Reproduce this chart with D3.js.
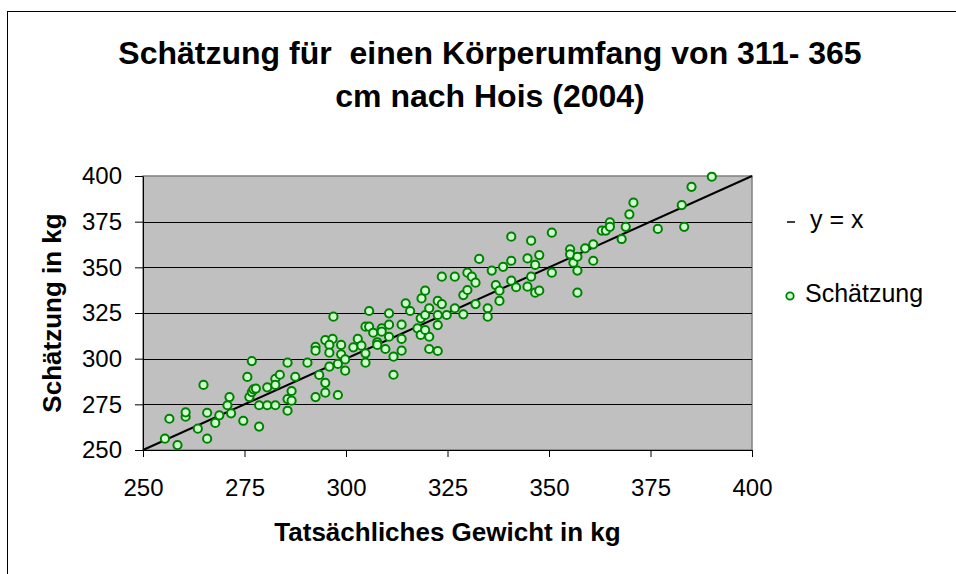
<!DOCTYPE html>
<html>
<head>
<meta charset="utf-8">
<script src="https://cdn.jsdelivr.net/npm/d3@7/dist/d3.min.js"></script>
<style>
  body { margin: 0; background: #fff; }
  text { font-family: "Liberation Sans", Arial, sans-serif; }
</style>
</head>
<body>
<div id="chart"></div>
<script>
// data
var titleLines = ["Schätzung für  einen Körperumfang von 311- 365", "cm nach Hois (2004)"];
var xTitle = "Tatsächliches Gewicht in kg",
    yTitle = "Schätzung in kg";
var legendLabels = ["y = x", "Schätzung"];
var xTicks = [250, 275, 300, 325, 350, 375, 400],
    yTicks = [250, 275, 300, 325, 350, 375, 400];
var lineXY = [250, 400];

var gewicht = [
  255.4, 258.5, 256.5, 260.5, 260.5, 263.5, 264.9, 265.8, 265.8, 267.8,
  268.8, 270.8, 271.3, 271.7, 274.7, 275.7, 276.8, 276.2, 276.8, 277.2,
  277.8, 278.6, 278.6, 280.6, 280.6, 282.6, 282.6, 282.6, 283.7, 285.6,
  285.6, 285.6, 286.6, 286.6, 287.5, 290.5, 292.5, 292.5, 292.5, 293.4,
  294.9, 294.9, 294.9, 296.9, 296.7, 295.9, 295.9, 295.9, 298.0, 298.0,
  298.8, 298.8, 299.8, 299.8, 301.8, 302.9, 303.8, 304.8, 304.8, 304.8,
  305.7, 305.7, 306.7, 307.7, 307.7, 308.8, 308.8, 309.7, 310.6, 310.6,
  310.6, 311.7, 311.7, 313.7, 313.7, 313.7, 314.7, 315.8, 317.6, 318.4,
  318.4, 318.6, 319.5, 319.5, 320.5, 320.5, 320.5, 322.6, 323.6, 322.6,
  322.6, 322.6, 323.6, 324.8, 319.5, 326.8, 326.8, 328.9, 328.9, 329.9,
  329.9, 331.0, 331.9, 331.9, 332.8, 334.9, 334.9, 335.9, 336.9, 337.8,
  337.8, 338.7, 340.7, 340.7, 340.7, 341.9, 344.7, 344.7, 345.6, 345.6,
  346.6, 347.6, 346.6, 347.6, 350.7, 350.7, 355.2, 355.2, 356.0, 357.0,
  357.0, 357.0, 358.9, 360.9, 360.9, 363.0, 364.0, 365.0, 365.0, 367.9,
  368.9, 369.8, 370.8, 376.8, 382.7, 383.3, 385.1, 390.1
];
var schaetzung = [
  256.2, 252.7, 267.1, 268.2, 270.6, 261.7, 285.6, 256.2, 270.4, 264.8,
  269.0, 274.5, 279.0, 270.1, 266.0, 290.0, 298.7, 279.0, 281.7, 283.2,
  283.6, 274.5, 262.8, 284.3, 274.5, 274.5, 289.0, 285.6, 291.2, 297.8,
  277.9, 271.5, 282.3, 277.0, 290.1, 297.8, 306.5, 304.4, 279.0, 291.1,
  286.8, 281.4, 310.2, 323.0, 310.8, 307.5, 303.3, 295.6, 280.1, 297.1,
  307.5, 302.4, 299.6, 293.4, 306.2, 310.8, 307.1, 317.5, 302.9, 297.8,
  317.5, 326.1, 314.2, 309.0, 307.5, 316.6, 314.8, 305.3, 324.8, 318.6,
  312.0, 301.1, 291.2, 318.6, 310.8, 304.4, 330.3, 326.1, 316.6, 322.1,
  313.0, 333.0, 337.2, 323.9, 327.6, 312.0, 305.3, 331.6, 329.9, 323.9,
  318.4, 304.2, 344.9, 323.9, 315.7, 344.9, 327.6, 334.8, 324.3, 347.1,
  337.6, 344.9, 341.6, 329.9, 354.6, 327.6, 323.0, 348.2, 340.3, 337.2,
  331.6, 350.3, 353.6, 366.8, 342.7, 339.1, 354.9, 339.4, 364.6, 344.9,
  351.3, 356.7, 336.1, 337.2, 369.0, 347.1, 359.9, 357.1, 352.5, 355.8,
  348.2, 336.1, 360.4, 362.6, 353.6, 370.1, 370.1, 374.6, 372.2, 365.5,
  372.2, 379.0, 385.4, 371.0, 384.1, 372.2, 394.1, 399.6
];

var containerWidth = 956,
    containerHeight = 574,
    margins = { top: 176, right: 204, bottom: 124, left: 143 },
    width = containerWidth - margins.left - margins.right,
    height = containerHeight - margins.top - margins.bottom;

var svg = d3.select("#chart")
    .append("svg")
    .attr("width", containerWidth)
    .attr("height", containerHeight);

svg.append("rect")
    .attr("width", containerWidth)
    .attr("height", containerHeight)
    .attr("fill", "#fff");

// outer chart frame (runs off the picture on the right and bottom)
svg.append("rect")
    .attr("x", 7.5).attr("y", 11.5)
    .attr("width", 1000).attr("height", 1000)
    .attr("fill", "none")
    .attr("stroke", "#000");

// title
svg.append("text")
    .attr("x", 490)
    .attr("text-anchor", "middle")
    .attr("font-weight", "bold")
    .attr("font-size", 32)
    .style("white-space", "pre")
    .selectAll("tspan")
    .data(titleLines)
    .enter().append("tspan")
    .attr("x", 490)
    .attr("y", function(d, i) { return 64 + i * 43; })
    .text(function(d) { return d; });

var x = d3.scaleLinear().domain([250, 400]).range([0, width]);
var y = d3.scaleLinear().domain([250, 400]).range([height, 0]);

var plot = svg.append("g")
    .attr("transform", "translate(" + margins.left + "," + margins.top + ")");

plot.append("rect")
    .attr("width", width)
    .attr("height", height)
    .attr("fill", "#c0c0c0")
    .attr("stroke", "#808080")
    .attr("stroke-width", 1.5);

// horizontal gridlines
plot.selectAll(".grid")
    .data(yTicks.slice(1, -1))
    .enter().append("line")
    .attr("class", "grid")
    .attr("x1", 0).attr("x2", width)
    .attr("y1", function(d) { return Math.round(y(d)) + 0.5; })
    .attr("y2", function(d) { return Math.round(y(d)) + 0.5; })
    .attr("stroke", "#000");

// y = x
plot.append("line")
    .attr("x1", x(lineXY[0])).attr("y1", y(lineXY[0]))
    .attr("x2", x(lineXY[1])).attr("y2", y(lineXY[1]))
    .attr("stroke", "#000")
    .attr("stroke-width", 2);

// axes
var yAxis = plot.append("g")
    .call(d3.axisLeft(y).tickValues(yTicks).tickSize(8).tickSizeOuter(0).tickPadding(13));
var xAxis = plot.append("g")
    .attr("transform", "translate(0," + height + ")")
    .call(d3.axisBottom(x).tickValues(xTicks).tickSize(7).tickSizeOuter(0).tickPadding(22));

[xAxis, yAxis].forEach(function(a) {
    a.selectAll("path, line").attr("stroke", "#000");
    a.selectAll("text")
        .attr("fill", "#000")
        .attr("font-size", 24)
        .attr("font-family", "'Liberation Sans', Arial, sans-serif");
});

// points
plot.selectAll(".pt")
    .data(d3.range(gewicht.length))
    .enter().append("circle")
    .attr("class", "pt")
    .attr("cx", function(i) { return x(gewicht[i]); })
    .attr("cy", function(i) { return y(schaetzung[i]); })
    .attr("r", 4.1)
    .attr("fill", "#ccffcc")
    .attr("stroke", "#008000")
    .attr("stroke-width", 2);

// axis titles
svg.append("text")
    .attr("x", margins.left + width / 2)
    .attr("y", 541)
    .attr("text-anchor", "middle")
    .attr("font-weight", "bold")
    .attr("font-size", 26)
    .text(xTitle);

svg.append("text")
    .attr("transform", "translate(61," + (margins.top + height / 2) + ") rotate(-90)")
    .attr("text-anchor", "middle")
    .attr("font-weight", "bold")
    .attr("font-size", 26)
    .text(yTitle);

// legend
var legend = svg.append("g");
legend.append("line")
    .attr("x1", 787).attr("x2", 795)
    .attr("y1", 222).attr("y2", 222)
    .attr("stroke", "#000")
    .attr("stroke-width", 1.5);
legend.append("text")
    .attr("x", 810).attr("y", 228)
    .attr("font-size", 25)
    .text(legendLabels[0]);
legend.append("circle")
    .attr("cx", 790).attr("cy", 296)
    .attr("r", 3.7)
    .attr("fill", "#ccffcc")
    .attr("stroke", "#008000")
    .attr("stroke-width", 1.8);
legend.append("text")
    .attr("x", 805).attr("y", 302)
    .attr("font-size", 25)
    .text(legendLabels[1]);
</script>
</body>
</html>
